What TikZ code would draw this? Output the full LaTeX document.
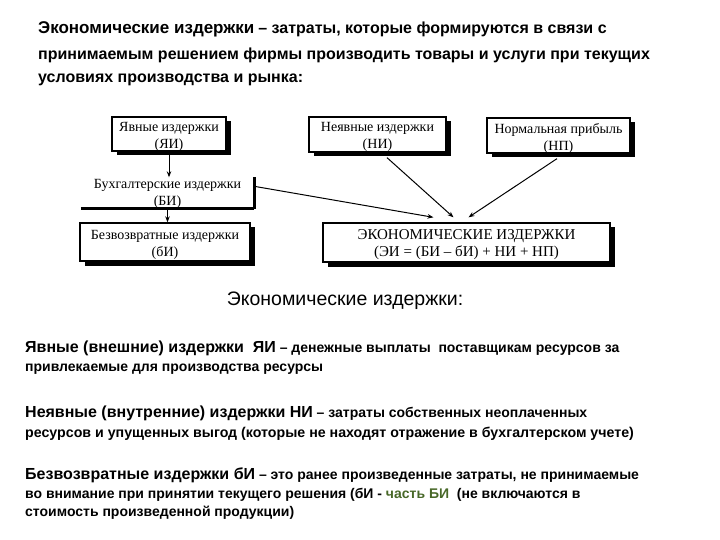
\documentclass[tikz,border=0pt]{standalone}
\usepackage{fontspec}
\setmainfont{Liberation Serif}
\newfontfamily\sansf{Liberation Sans}
\usetikzlibrary{arrows.meta,shadows,calc}
\definecolor{grn}{RGB}{72,104,40}
\begin{document}
\begin{tikzpicture}[x=1pt,y=-1pt,
  sbox/.style={draw,line width=1.3pt,fill=white,inner sep=0pt,
    drop shadow={shadow xshift=4.5pt,shadow yshift=-4.5pt,fill=black,opacity=1}},
  btext/.style={inner sep=0pt,align=center,font=\fontsize{14}{17}\selectfont},
  arr/.style={-{Stealth[length=6pt,width=4.5pt]},line width=1pt},
  txt/.style={anchor=base west,inner sep=0pt,font=\sansf\bfseries\fontsize{14}{16}\selectfont}]
\useasboundingbox (0,0) rectangle (720,540);

% title
\node[txt] (t1) at (38,34) {{\fontsize{17}{19}\selectfont Экономические издержки} {\fontsize{16}{18}\selectfont – затраты, которые формируются в связи с}};
\node[txt,font=\sansf\bfseries\fontsize{16}{18}\selectfont] (t2) at (38,60) {принимаемым решением фирмы производить товары и услуги при текущих};
\node[txt,font=\sansf\bfseries\fontsize{16}{18}\selectfont] (t3) at (38,83) {условиях производства и рынка:};

% boxes
\node[sbox,minimum width=114pt,minimum height=34pt] (ya) at (169,134) {};
\node[btext] (yat) at ($(ya)+(0,2.5)$) {Явные издержки\\(ЯИ)};
\node[sbox,minimum width=137pt,minimum height=35pt] (ni) at (377.5,134.5) {};
\node[btext] (nit) at ($(ni)+(0,2.5)$) {Неявные издержки\\(НИ)};
\node[sbox,minimum width=143pt,minimum height=35pt] (np) at (558.5,135.5) {};
\node[btext] (npt) at ($(np)+(0,2.5)$) {Нормальная прибыль\\(НП)};
\node[minimum width=173pt,minimum height=31pt,inner sep=0pt] (bi) at (167.5,193) {};
\node[btext] (bit) at ($(bi)+(0,1)$) {Бухгалтерские издержки\\(БИ)};
\draw[line width=2.5pt] (bi.south west) -- (bi.south east);
\draw[line width=3pt] (bi.north east) -- (bi.south east);
\node[sbox,minimum width=170pt,minimum height=38pt] (bs) at (165,242) {};
\node[btext] (bst) at ($(bs)+(0,3)$) {Безвозвратные издержки\\(бИ)};
\node[sbox,minimum width=287pt,minimum height=39pt] (ei) at (466.5,242.5) {};
\node[btext,font=\fontsize{15}{17}\selectfont] (eit) at ($(ei)+(0,2.5)$) {ЭКОНОМИЧЕСКИЕ ИЗДЕРЖКИ\\(ЭИ = (БИ – бИ) + НИ + НП)};

% connectors
\draw[arr] (ya.south) -- (ya.south |- bi.north);
\draw[arr] (bi.south) -- (bi.south |- bs.north);
\coordinate (b1) at ($(ei.north)+(-33,-5)$);
\coordinate (b2) at ($(ei.north)+(-13,-5)$);
\coordinate (b3) at ($(ei.north)+(2,-5)$);
\draw[arr] ($(bi.north east)+(0,9)$) -- (b1);
\draw[arr] ($(ni.south)+(9.5,5)$) -- (b2);
\draw[arr] ($(np.south)+(-1.5,5)$) -- (b3);

% middle heading
\node[inner sep=0pt,anchor=base,font=\sansf\fontsize{19.5}{22}\selectfont] (h) at (345,305) {Экономические издержки:};

% definitions
\node[txt] (d1) at (25,352) {{\fontsize{16}{18}\selectfont Явные (внешние) издержки\ \ ЯИ} – денежные выплаты\ \ поставщикам ресурсов за};
\node[txt] (d2) at (25,371) {привлекаемые для производства ресурсы};
\node[txt] (d3) at (25,417) {{\fontsize{16}{18}\selectfont Неявные (внутренние) издержки НИ} – затраты собственных неоплаченных};
\node[txt,font=\sansf\bfseries\fontsize{14.2}{16}\selectfont] (d4) at (25,437) {ресурсов и упущенных выгод (которые не находят отражение в бухгалтерском учете)};
\node[txt] (d5) at (25,479) {{\fontsize{16}{18}\selectfont Безвозвратные издержки бИ} – это ранее произведенные затраты, не принимаемые};
\node[txt] (d6) at (25,498) {во внимание при принятии текущего решения (бИ - {\color{grn}часть БИ}\ \ (не включаются в};
\node[txt] (d7) at (25,516) {стоимость произведенной продукции)};
\end{tikzpicture}
\end{document}
